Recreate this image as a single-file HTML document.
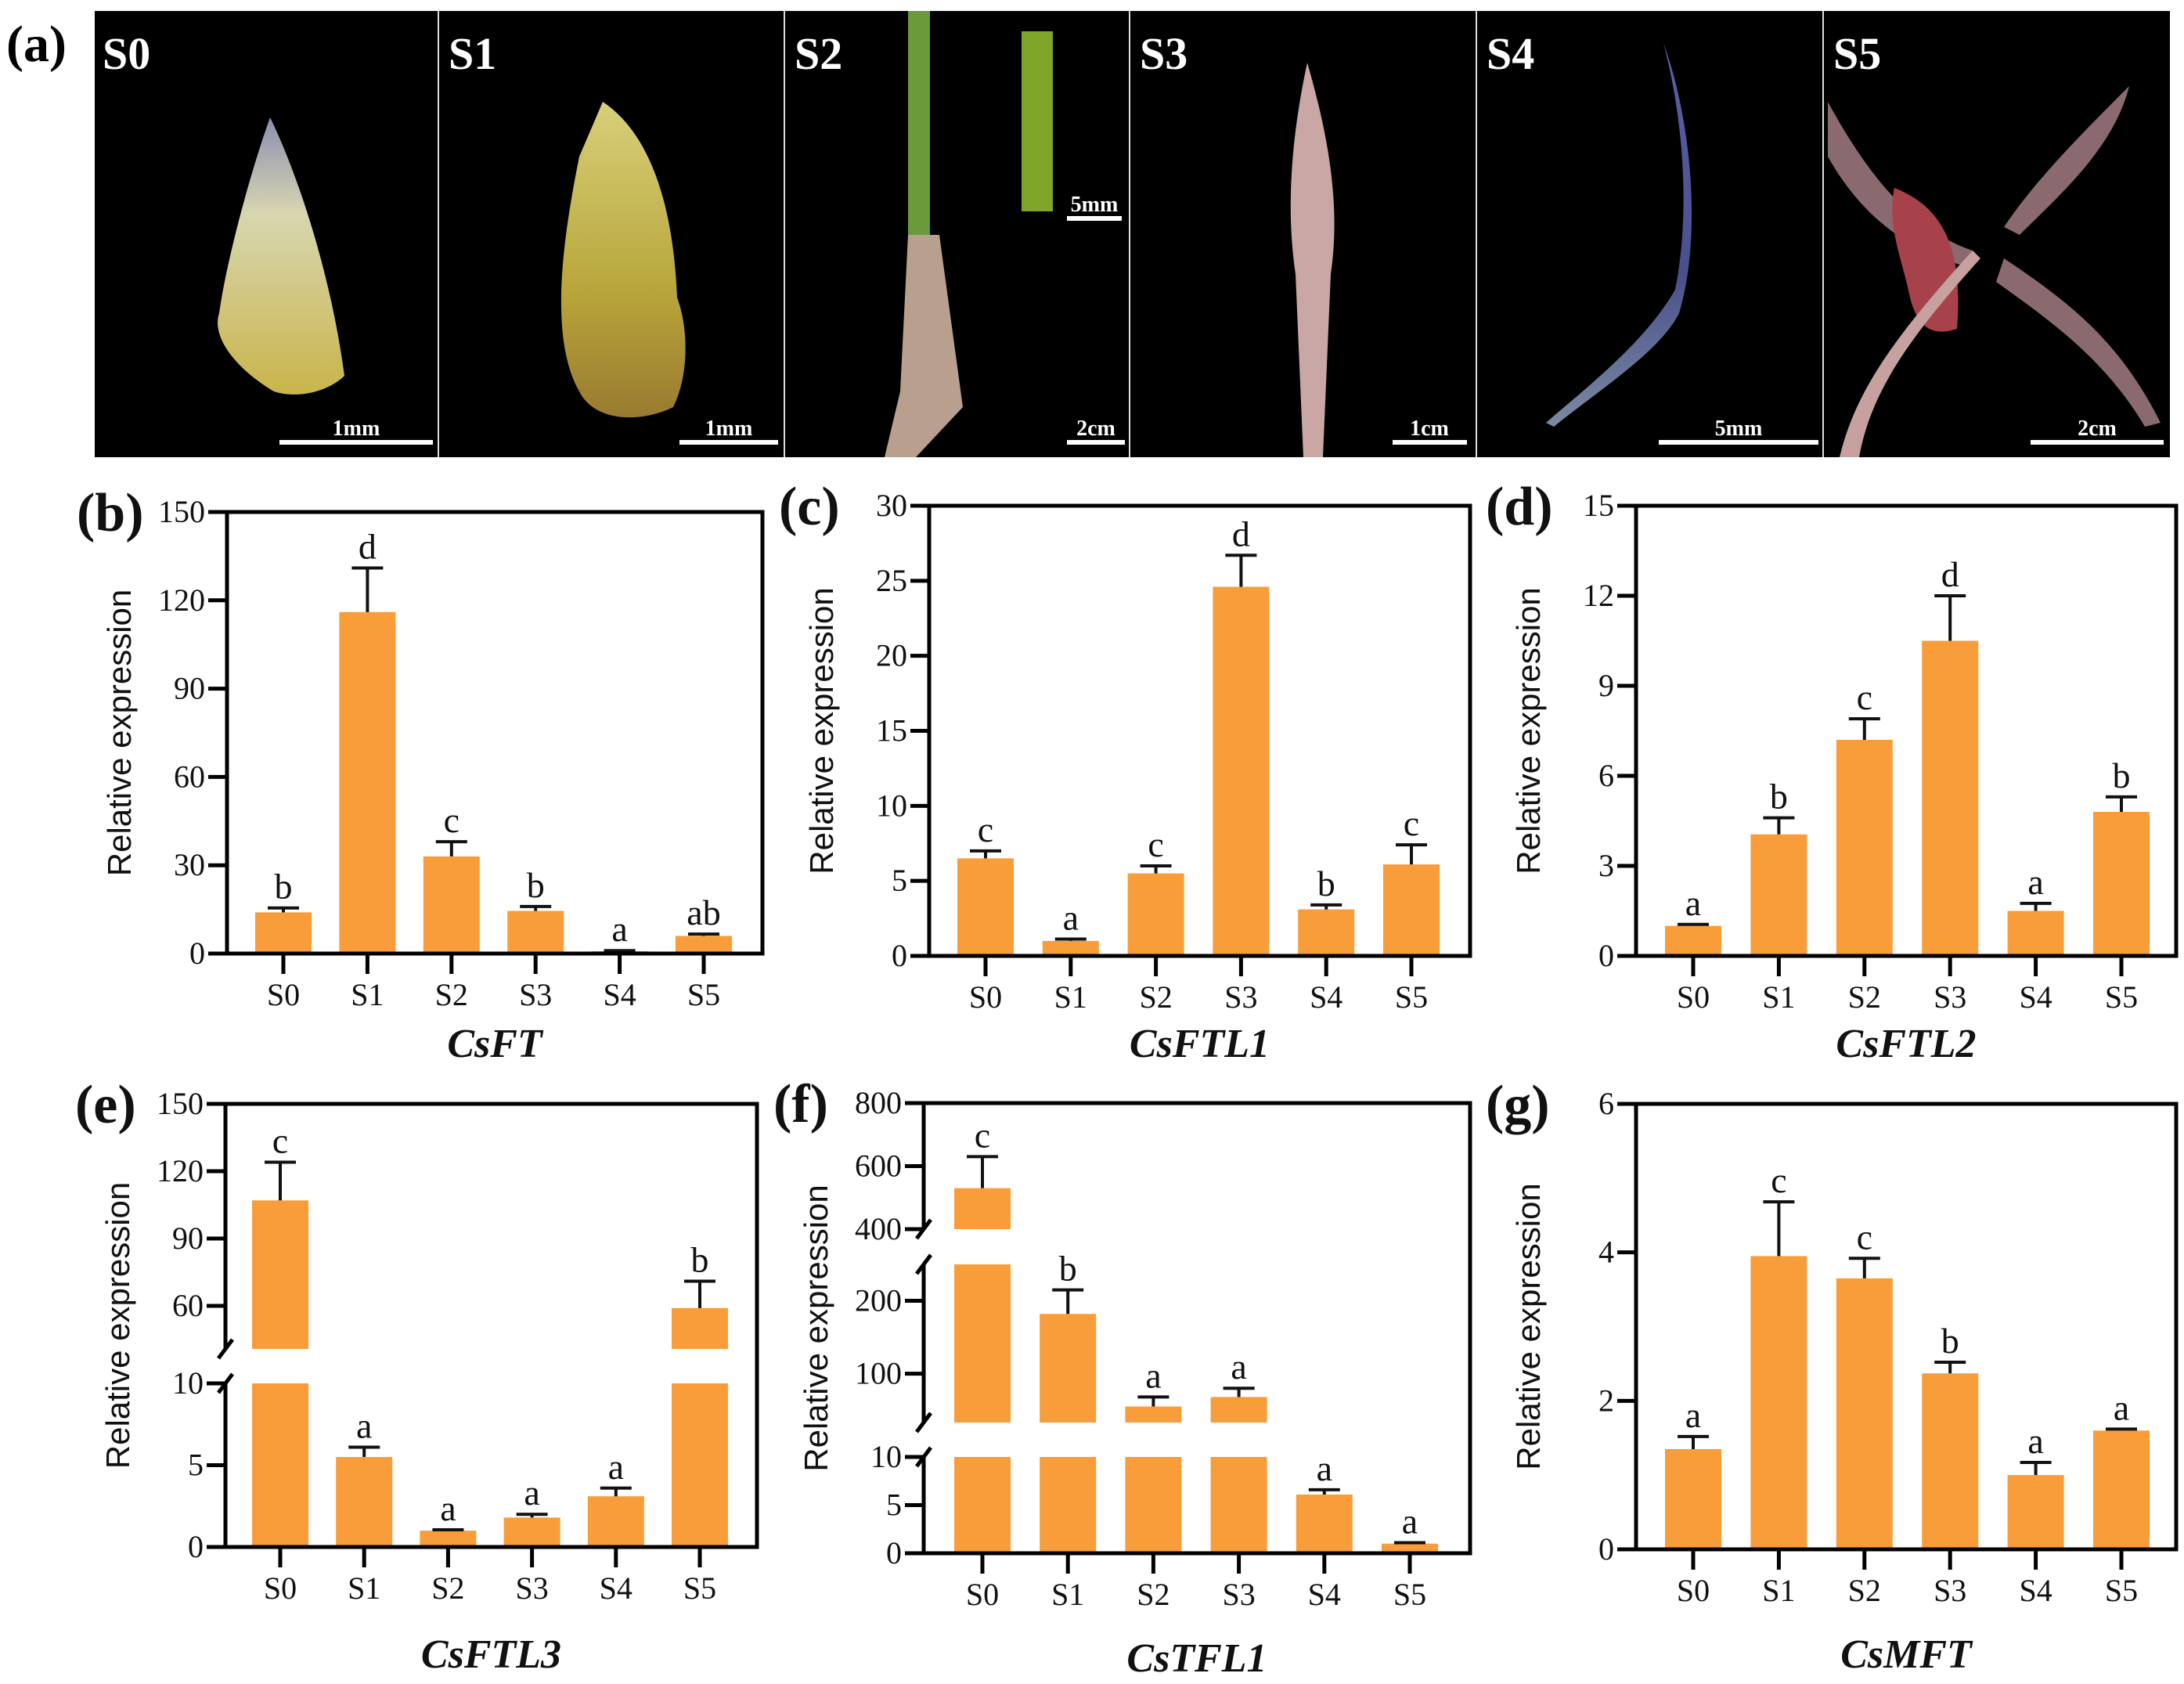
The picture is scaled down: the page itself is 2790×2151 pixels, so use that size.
<!DOCTYPE html>
<html><head><meta charset="utf-8">
<style>
html,body{margin:0;padding:0;background:#fff;}
body{width:2790px;height:2151px;overflow:hidden;position:relative;font-family:"Liberation Serif",serif;}
svg{position:absolute;left:0;top:0;font-family:"Liberation Serif",serif;}
svg text{font-family:"Liberation Serif",serif;}
svg text.sans{font-family:"Liberation Sans",sans-serif;}
</style></head>
<body>
<svg id="fig" width="2790" height="2151" viewBox="0 0 2790 2151" xmlns="http://www.w3.org/2000/svg" font-family="Liberation Serif, serif">
<defs>
<linearGradient id="g0" x1="0" y1="0" x2="0" y2="1"><stop offset="0" stop-color="#8c8fb0"/><stop offset="0.35" stop-color="#d8d6b0"/><stop offset="1" stop-color="#c9b54a"/></linearGradient>
<linearGradient id="g1" x1="0" y1="0" x2="0" y2="1"><stop offset="0" stop-color="#d7cf7a"/><stop offset="0.6" stop-color="#b8a63a"/><stop offset="1" stop-color="#9a7a30"/></linearGradient>
<linearGradient id="g4" x1="0" y1="0" x2="0" y2="1"><stop offset="0" stop-color="#5b5fa8"/><stop offset="0.6" stop-color="#4a4f8c"/><stop offset="1" stop-color="#7a8aa0"/></linearGradient>
</defs>
<g id="photos">
  <rect x="121" y="14" width="2651" height="570" fill="#000"/>
  <g stroke="#ddd" stroke-width="2">
    <line x1="560" y1="14" x2="560" y2="584"/><line x1="1002" y1="14" x2="1002" y2="584"/><line x1="1443" y1="14" x2="1443" y2="584"/><line x1="1886" y1="14" x2="1886" y2="584"/><line x1="2329" y1="14" x2="2329" y2="584"/>
  </g>
  <path d="M345 150 C 370 200, 420 330, 440 480 C 420 500, 380 510, 350 500 C 300 470, 270 430, 280 400 C 290 330, 320 220, 345 150 Z" fill="url(#g0)"/>
  <path d="M770 130 C 830 170, 860 260, 865 380 C 880 420, 880 480, 860 520 C 820 540, 760 540, 740 500 C 700 430, 720 300, 740 200 Z" fill="url(#g1)"/>
  <rect x="1160" y="14" width="28" height="540" fill="#6a9a3a"/>
  <path d="M1160 300 L1200 300 L1230 520 L1170 584 L1130 584 L1150 500 Z" fill="#b9a08e"/>
  <rect x="1305" y="40" width="40" height="230" fill="#7fa628"/>
  <path d="M1670 80 C 1690 150, 1715 250, 1700 350 L1690 584 L1665 584 L1655 350 C 1640 250, 1655 150, 1670 80 Z" fill="#c8a7a5"/>
  <path d="M2125 55 C 2150 150, 2160 270, 2140 370 C 2100 440, 2020 500, 1975 540 L1985 545 C 2040 500, 2120 450, 2145 400 C 2175 300, 2160 150, 2125 55 Z" fill="url(#g4)"/>
  <path d="M2335 130 C 2400 250, 2460 300, 2520 320 L2510 340 C 2440 320, 2380 280, 2335 200 Z" fill="#8a6a6e"/>
  <path d="M2720 110 C 2660 170, 2600 230, 2560 290 L2580 300 C 2630 250, 2700 190, 2720 110 Z" fill="#8a6a6e"/>
  <path d="M2560 330 C 2650 390, 2710 440, 2760 540 L2740 545 C 2690 460, 2620 410, 2550 360 Z" fill="#8a6a6e"/>
  <path d="M2420 240 C 2470 260, 2510 300, 2500 420 C 2470 430, 2450 420, 2440 380 C 2430 330, 2410 290, 2420 240 Z" fill="#a8424a"/>
  <path d="M2350 584 C 2370 500, 2420 430, 2520 320 L2530 330 C 2440 430, 2390 500, 2375 584 Z" fill="#c7a0a0"/>
  <g fill="#fff" font-weight="bold" font-size="58" font-family="Liberation Serif, serif">
    <text x="131" y="88">S0</text>
    <text x="573" y="88">S1</text>
    <text x="1015" y="88">S2</text>
    <text x="1456" y="88">S3</text>
    <text x="1899" y="88">S4</text>
    <text x="2342" y="88">S5</text>
  </g>
  <g fill="#fff" stroke="none" font-weight="bold" font-size="28" font-family="Liberation Serif, serif" text-anchor="middle">
    <rect x="357" y="562" width="196" height="6"/><text x="455" y="556">1mm</text>
    <rect x="868" y="562" width="126" height="6"/><text x="931" y="556">1mm</text>
    <rect x="1363" y="562" width="74" height="6"/><text x="1400" y="556">2cm</text>
    <rect x="1363" y="276" width="70" height="6"/><text x="1398" y="270">5mm</text>
    <rect x="1779" y="562" width="95" height="6"/><text x="1826" y="556">1cm</text>
    <rect x="2119" y="562" width="204" height="6"/><text x="2221" y="556">5mm</text>
    <rect x="2594" y="562" width="170" height="6"/><text x="2679" y="556">2cm</text>
  </g>
  <text x="8" y="78" font-weight="bold" font-size="66" font-family="Liberation Serif, serif">(a)</text>
</g>
<g id="charts" font-family="Liberation Serif, serif"></g>
</svg>
<script>
const categories = ["S0","S1","S2","S3","S4","S5"];
const bMeans = [14, 116, 33, 14.5, 0.8, 6];
const bErr = [15.5, 131, 38, 16, 1.0, 6.6];
const bSig = ["b","d","c","b","a","ab"];
const bTicks = [0, 30, 60, 90, 120, 150];
const cMeans = [6.5, 1.0, 5.5, 24.6, 3.1, 6.1];
const cErr = [7.0, 1.12, 6.0, 26.7, 3.4, 7.4];
const cSig = ["c","a","c","d","b","c"];
const cTicks = [0, 5, 10, 15, 20, 25, 30];
const dMeans = [1.0, 4.05, 7.2, 10.5, 1.5, 4.8];
const dErr = [1.05, 4.6, 7.9, 12.0, 1.75, 5.3];
const dSig = ["a","b","c","d","a","b"];
const dTicks = [0, 3, 6, 9, 12, 15];
const eMeans = [107, 5.5, 1.0, 1.8, 3.1, 59];
const eErr = [124, 6.1, 1.05, 2.0, 3.6, 71];
const eSig = ["c","a","a","a","a","b"];
const eTicks = [0, 5, 10, 60, 90, 120, 150];
const fMeans = [530, 182, 55, 68, 6.1, 1.0];
const fErr = [630, 215, 68, 80, 6.6, 1.1];
const fSig = ["c","b","a","a","a","a"];
const fTicks = [0, 5, 10, 100, 200, 400, 600, 800];
const gMeans = [1.35, 3.95, 3.65, 2.37, 1.0, 1.6];
const gErr = [1.52, 4.68, 3.92, 2.52, 1.17, 1.62];
const gSig = ["a","c","c","b","a","a"];
const gTicks = [0, 2, 4, 6];

const NS = "http://www.w3.org/2000/svg";
const root = document.getElementById("charts");
const ORANGE = "#F99D3A";
const SERIF = "Liberation Serif, serif";
function mk(tag, attrs, parent){
  const el = document.createElementNS(NS, tag);
  for (const k in attrs) el.setAttribute(k, attrs[k]);
  parent.appendChild(el);
  return el;
}
function chart(cfg){
  const g = mk("g", {}, root);
  
  
  const segs = cfg.segs;
  function y(v){
    for (let i = 0; i < segs.length; i++){
      const s = segs[i];
      if (v <= s[1] || i === segs.length - 1){
        const vv = Math.max(s[0], v);
        return s[2] - (vv - s[0]) / (s[1] - s[0]) * (s[2] - s[3]);
      }
    }
  }
  const n = categories.length;
  const step = (cfg.lastX - cfg.firstX) / (n - 1);
  function x(i){ return cfg.firstX + i * step; }
  const bw = 72;
  cfg.means.forEach((v, i) => {
    segs.forEach(s => {
      if (v > s[0]){
        const top = y(Math.min(v, s[1]));
        const bot = s[2];
        const r = mk("rect", {x: x(i) - bw/2, y: top, width: bw, height: Math.max(0, bot - top), fill: ORANGE}, g);
        
        
      }
    });
    const et = y(cfg.err[i]);
    const eb = y(v);
    const el = mk("path", {d: `M${x(i)} ${eb} V${et} M${x(i)-20} ${et} H${x(i)+20}`, stroke: "#111", "stroke-width": 4, fill: "none"}, g);
    
    
    const t = mk("text", {x: x(i), y: et - 12, "text-anchor": "middle", "font-size": 46, fill: "#111", "font-family": SERIF}, g);
    t.textContent = cfg.sig[i];
    
    
  });
  const top = cfg.top, bot = cfg.bottom, L = cfg.left, R = cfg.right;
  const fr = mk("path", {d: `M${L-2} ${top} H${R} V${bot} H${L-24}`, stroke: "#000", "stroke-width": 5, fill: "none"}, g);
  
  
  mk("line", {x1: L-24, y1: top, x2: L, y2: top, stroke: "#000", "stroke-width": 5}, g);
  segs.forEach((s, k) => {
    const y0 = (k === 0) ? bot : s[2];
    const y1 = (k === segs.length - 1) ? top : s[3];
    const a = mk("line", {x1: L, y1: y0, x2: L, y2: y1, stroke: "#000", "stroke-width": 5}, g);
    
    
    if (segs.length > 1){
      if (k > 0) mk("line", {x1: L-9, y1: s[2]+12, x2: L+9, y2: s[2]-12, stroke: "#000", "stroke-width": 5}, g);
      if (k < segs.length - 1) mk("line", {x1: L-9, y1: s[3]+12, x2: L+9, y2: s[3]-12, stroke: "#000", "stroke-width": 5}, g);
    }
  });
  cfg.ticks.forEach(tv => {
    const ty = y(tv);
    mk("line", {x1: L-24, y1: ty, x2: L, y2: ty, stroke: "#000", "stroke-width": 5}, g);
    const t = mk("text", {x: L-28, y: ty + 13, "text-anchor": "end", "font-size": 40, fill: "#111", "font-family": SERIF}, g);
    t.textContent = tv;
    
    
  });
  categories.forEach((c, i) => {
    mk("line", {x1: x(i), y1: bot, x2: x(i), y2: bot + 26, stroke: "#000", "stroke-width": 5}, g);
    const t = mk("text", {x: x(i), y: bot + 66, "text-anchor": "middle", "font-size": 40, fill: "#111", "font-family": SERIF}, g);
    t.textContent = c;
    
    
  });
  const yt = mk("text", {x: 0, y: 0, "text-anchor": "middle", "font-size": 42, fill: "#111", "font-family": "Liberation Sans, sans-serif", transform: `translate(${L-123},${(top+bot)/2}) rotate(-90)`}, g);
  yt.setAttribute("class", "sans");
  yt.textContent = "Relative expression";
  
  
  const ti = mk("text", {x: (L+R)/2, y: cfg.titleY, "text-anchor": "middle", "font-size": 52, "font-weight": "bold", "font-style": "italic", fill: "#111", "font-family": SERIF}, g);
  ti.textContent = cfg.title;
  
  
  const pl = mk("text", {x: L-192, y: top + 24, "font-size": 70, "font-weight": "bold", fill: "#111", "font-family": SERIF}, g);
  pl.textContent = "(" + cfg.id + ")";
  
  
}
chart({id:"b", means:bMeans, err:bErr, sig:bSig, ticks:bTicks, title:"CsFT", left:290, right:974, top:654, bottom:1218, firstX:362, lastX:899, titleY:1350, segs:[[0,150,1218,654]]});
chart({id:"c", means:cMeans, err:cErr, sig:cSig, ticks:cTicks, title:"CsFTL1", left:1187, right:1878, top:646, bottom:1221, firstX:1259, lastX:1803, titleY:1350, segs:[[0,30,1221,646]]});
chart({id:"d", means:dMeans, err:dErr, sig:dSig, ticks:dTicks, title:"CsFTL2", left:2090, right:2780, top:646, bottom:1221, firstX:2163, lastX:2710, titleY:1350, segs:[[0,15,1221,646]]});
chart({id:"e", means:eMeans, err:eErr, sig:eSig, ticks:eTicks, title:"CsFTL3", left:288, right:967, top:1410, bottom:1976, firstX:358, lastX:894, titleY:2130, segs:[[0,10,1976,1767],[40.8,150,1723,1410]]});
chart({id:"f", means:fMeans, err:fErr, sig:fSig, ticks:fTicks, title:"CsTFL1", left:1180, right:1878, top:1409, bottom:1984, firstX:1255, lastX:1801, titleY:2135, segs:[[0,10,1984,1861],[33,250,1817,1615],[400,800,1570,1409]]});
chart({id:"g", means:gMeans, err:gErr, sig:gSig, ticks:gTicks, title:"CsMFT", left:2090, right:2780, top:1410, bottom:1979, firstX:2163, lastX:2710, titleY:2130, segs:[[0,6,1979,1410]]});
</script>
</body></html>
